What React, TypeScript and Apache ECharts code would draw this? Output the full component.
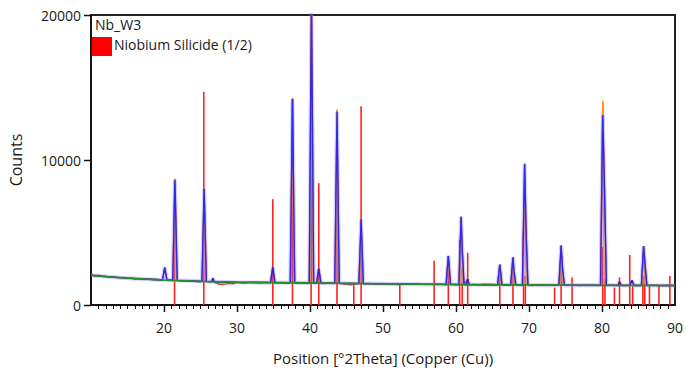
import React, { useEffect, useRef } from "react";
import * as echarts from "echarts";

// Reference pattern: Niobium Silicide (1/2) stick positions and intensities
const stickPos = [21.45, 25.45, 34.9, 37.6, 40.15, 41.2, 43.7, 46.0, 47.0, 52.3, 57.0, 58.95, 60.5, 60.85, 61.6, 66.0, 67.8, 69.25, 69.5, 73.5, 74.4, 75.9, 80.1, 80.4, 81.7, 82.4, 83.8, 84.2, 85.6, 85.85, 86.5, 87.8, 89.3];
const stickInt = [8600, 14700, 7300, 14200, 14600, 8400, 13400, 1500, 13700, 1400, 3050, 3300, 4500, 2500, 3600, 2700, 2750, 5000, 2000, 1200, 4100, 1900, 4000, 1800, 1200, 1900, 3450, 1300, 2000, 2700, 1300, 1300, 2000];

// Background (green)
const background: [number, number][] = [[10, 2050], [12, 1960], [15, 1850], [20, 1720], [25, 1630], [30, 1560], [35, 1540], [40, 1520], [45, 1490], [50, 1460], [55, 1435], [60, 1412], [65, 1398], [70, 1385], [75, 1370], [80, 1360], [85, 1350], [90, 1340]];

// Calculated profile (blue)
const calculated: [number, number][] = [
  [10, 2050], [12, 1960], [15, 1850], [19.8, 1720], [20.1, 2600], [20.4, 1715], [21.2, 1705], [21.5, 8600], [21.8, 1700],
  [25.2, 1635], [25.5, 8000], [25.8, 1630], [26.5, 1610], [26.7, 1850], [26.9, 1605], [30, 1560], [34.6, 1540], [34.9, 2600], [35.2, 1540],
  [37.3, 1530], [37.6, 14200], [37.9, 1530], [39.9, 1520], [40.2, 21000], [40.5, 1520], [40.9, 1515], [41.2, 2500], [41.5, 1515],
  [43.4, 1500], [43.7, 13300], [44.0, 1500], [46.7, 1480], [47.0, 5900], [47.3, 1480], [50, 1460], [55, 1435],
  [58.65, 1420], [58.95, 3380], [59.25, 1420], [60.4, 1410], [60.7, 6100], [60.85, 3900], [61.1, 1410], [61.4, 1410], [61.6, 1800], [61.8, 1410],
  [65.7, 1395], [66.0, 2800], [66.3, 1395], [67.5, 1390], [67.8, 3300], [67.95, 2300], [68.2, 1390], [69.1, 1385], [69.4, 9700], [69.6, 5000], [69.85, 1385],
  [74.1, 1370], [74.4, 4100], [74.6, 2500], [74.85, 1370], [79.8, 1360], [80.1, 13100], [80.35, 7800], [80.6, 1360],
  [82.2, 1355], [82.4, 1600], [82.6, 1355], [83.8, 1350], [84.1, 1700], [84.4, 1350], [85.4, 1350], [85.7, 4070], [85.9, 2750], [86.15, 1350], [90, 1340],
];

// Observed peak tops (orange)
const observedTops: [number, number][] = [
  [21.3, 1705], [21.5, 8700], [21.7, 1700], [25.3, 1635], [25.5, 7900], [25.7, 1630],
  [37.4, 1530], [37.6, 14300], [37.8, 1530], [40.0, 1520], [40.2, 21000], [40.4, 1520],
  [43.5, 1500], [43.7, 13500], [43.9, 1500], [46.8, 1480], [47.0, 5800], [47.2, 1480],
  [58.75, 1420], [58.95, 3300], [59.15, 1420], [60.5, 1410], [60.7, 6000], [60.9, 1410],
  [65.8, 1395], [66.0, 2700], [66.2, 1395], [67.6, 1390], [67.8, 3200], [68.0, 1390],
  [69.2, 1385], [69.4, 9800], [69.6, 1385], [74.2, 1370], [74.4, 4000], [74.6, 1370],
  [79.9, 1360], [80.1, 14100], [80.3, 1360], [85.5, 1350], [85.7, 4000], [85.9, 1350],
];

// Observed data (red)
const observed: [number, number][] = [
  [10, 2080], [10.5, 2020], [11, 2060], [11.5, 1990], [12, 1990], [12.5, 1940], [13, 1960], [13.5, 1900], [14, 1890], [14.5, 1900],
  [15, 1830], [15.5, 1860], [16, 1790], [16.5, 1800], [17, 1810], [17.5, 1750], [18, 1800], [18.5, 1760], [19, 1780], [19.5, 1740],
  [19.8, 1760], [20.1, 2550], [20.4, 1720], [21.2, 1720], [21.5, 8700], [21.8, 1690], [22.5, 1650], [23, 1700], [23.5, 1640], [24, 1660],
  [24.5, 1600], [25.2, 1620], [25.5, 7950], [25.8, 1630], [26.5, 1600], [26.7, 1820], [26.9, 1560], [27.5, 1450], [28, 1420], [28.5, 1460],
  [29, 1500], [29.5, 1470], [30, 1560], [31, 1510], [31.5, 1560], [32, 1580], [33, 1530], [33.5, 1570], [34.6, 1560], [34.9, 2650],
  [35.2, 1520], [36, 1550], [36.5, 1500], [37.3, 1540], [37.6, 14300], [37.9, 1520], [38.5, 1540], [39.9, 1510], [40.2, 21000], [40.5, 1500],
  [40.9, 1530], [41.2, 2550], [41.5, 1500], [42, 1480], [42.5, 1520], [43.4, 1510], [43.7, 13400], [44, 1490], [45, 1420], [45.5, 1400],
  [46.7, 1490], [47, 5800], [47.3, 1470], [48, 1480], [49, 1430], [50, 1480], [51, 1450], [52, 1410], [53, 1460], [54, 1440],
  [55, 1420], [56, 1450], [57, 1430], [58, 1440], [58.65, 1400], [58.95, 3400], [59.25, 1430], [60.4, 1400], [60.7, 6050], [60.85, 3800],
  [61.1, 1420], [61.6, 1780], [61.8, 1390], [62.5, 1420], [63, 1390], [64, 1430], [65, 1400], [65.7, 1380], [66.0, 2750], [66.3, 1400],
  [67.5, 1370], [67.8, 3250], [67.95, 2250], [68.2, 1400], [69.1, 1380], [69.4, 9750], [69.6, 5100], [69.85, 1390], [70.5, 1360], [71, 1400],
  [72, 1370], [73, 1350], [74.1, 1380], [74.4, 4050], [74.6, 2450], [74.85, 1360], [76, 1380], [77, 1340], [78, 1390], [79, 1350],
  [79.8, 1370], [80.1, 14000], [80.35, 7700], [80.6, 1350], [81, 1380], [82.2, 1340], [82.4, 1620], [82.6, 1360], [83, 1330], [83.8, 1360],
  [84.1, 1680], [84.4, 1340], [85.4, 1360], [85.7, 4050], [85.9, 2700], [86.15, 1340], [87, 1370], [88, 1330], [89, 1360], [90, 1340],
];

const xRange = [10, 90];
const xMajor = 10;
const xMinor = 1;
const yRange = [0, 20000];
const yMajor = 10000;

const FONT = "'Open Sans', 'Noto Sans', sans-serif";
const TXT = "#1a1a1a";

export default function App() {
  const ref = useRef<HTMLDivElement>(null);
  useEffect(() => {
    if (!ref.current) return;
    const chart = echarts.init(ref.current, null, { renderer: "svg" });
    const sticks = stickPos.map((p, i) => [p, stickInt[i]]);
    const legendGraphics: any[] = [
      { type: "text", left: 95, top: 17, style: { text: "Nb_W3", fontFamily: FONT, fontSize: 14, fill: TXT } },
      { type: "rect", shape: { x: 91, y: 37, width: 21, height: 19 }, style: { fill: "#ff0000" } },
      { type: "text", left: 114, top: 37, style: { text: "Niobium Silicide (1/2)", fontFamily: FONT, fontSize: 14, fill: TXT } },
    ];
    chart.setOption({
      animation: false,
      backgroundColor: "#ffffff",
      grid: { left: 89, right: 7, top: 15, bottom: 66, show: true, borderColor: "#222", borderWidth: 2, backgroundColor: "transparent" },
      xAxis: {
        type: "value",
        min: xRange[0],
        max: xRange[1],
        interval: xMajor,
        name: "Position [°2Theta] (Copper (Cu))",
        nameLocation: "middle",
        nameGap: 45,
        nameTextStyle: { fontFamily: FONT, fontSize: 15, color: TXT },
        axisLine: { show: true, onZero: false, lineStyle: { color: "#111", width: 1.5 } },
        axisTick: { show: false },
        axisLabel: { showMinLabel: false, fontFamily: FONT, fontSize: 14, color: TXT, margin: 15 },
        splitLine: { show: false },
      },
      yAxis: {
        type: "value",
        min: yRange[0],
        max: yRange[1],
        interval: yMajor,
        name: "Counts",
        nameLocation: "middle",
        nameGap: 67,
        nameRotate: 90,
        nameTextStyle: { fontFamily: FONT, fontSize: 16, color: TXT },
        axisLine: { show: true, lineStyle: { color: "#111", width: 1.5 } },
        axisTick: { show: false },
        axisLabel: { fontFamily: FONT, fontSize: 14, color: TXT, margin: 10, formatter: (v: number) => String(v) },
        splitLine: { show: false },
      },
      series: [
        {
          type: "bar",
          name: "Niobium Silicide (1/2)",
          data: sticks,
          barWidth: 1.6,
          barGap: "-100%",
          itemStyle: { color: "#ff2020" },
          z: 1,
        },
        { type: "line", data: observed, symbol: "none", lineStyle: { color: "#e8241c", width: 1.4 }, z: 2 },
        { type: "line", data: observedTops, symbol: "none", lineStyle: { color: "#ff9a1e", width: 1.3 }, z: 3 },
        { type: "line", data: calculated, symbol: "none", lineStyle: { color: "rgba(120,120,255,0.35)", width: 4 }, z: 4 },
        { type: "line", data: calculated, symbol: "none", lineStyle: { color: "#1a1aee", width: 1.4, opacity: 0.85 }, z: 5 },
        { type: "line", data: background, symbol: "none", lineStyle: { color: "#2a8a2a", width: 1.8 }, z: 6 },
      ],
      graphic: legendGraphics,
    });

    // Tick marks placed through the chart's own scales
    const tickGraphics: any[] = [];
    for (let v = xRange[0] + xMinor; v < xRange[1]; v += xMinor) {
      const p = chart.convertToPixel({ gridIndex: 0 }, [v, yRange[0]]) as number[];
      const major = v % xMajor === 0;
      tickGraphics.push({
        type: "line",
        z: 100,
        shape: { x1: Math.round(p[0]) + 0.5, y1: p[1], x2: Math.round(p[0]) + 0.5, y2: p[1] + (major ? 7 : 4) },
        style: { stroke: "#111", lineWidth: major ? 1.5 : 1 },
      });
    }
    for (let v = yRange[0]; v <= yRange[1]; v += yMajor) {
      const p = chart.convertToPixel({ gridIndex: 0 }, [xRange[0], v]) as number[];
      tickGraphics.push({
        type: "line",
        z: 100,
        shape: { x1: p[0] - 7, y1: Math.round(p[1]) + 0.5, x2: p[0], y2: Math.round(p[1]) + 0.5 },
        style: { stroke: "#111", lineWidth: 1.5 },
      });
    }
    chart.setOption({ graphic: [...legendGraphics, ...tickGraphics] });
    return () => chart.dispose();
  }, []);
  return <div ref={ref} style={{ width: 686, height: 371, position: "absolute", left: 0, top: 0 }} />;
}
